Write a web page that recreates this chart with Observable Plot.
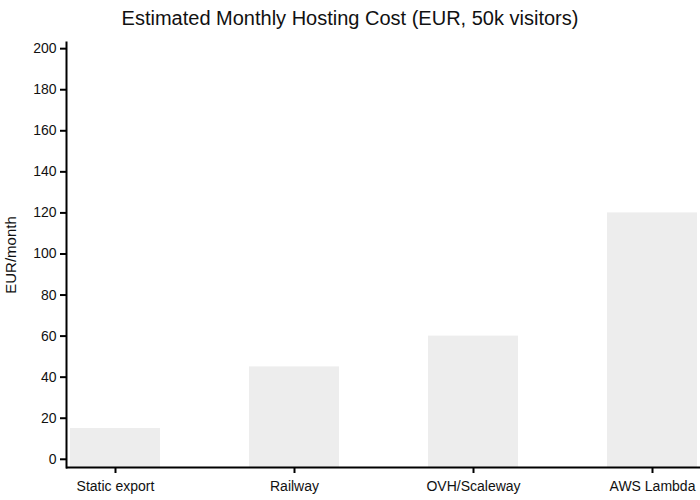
<!DOCTYPE html>
<html>
<head>
<meta charset="utf-8">
<script src="https://cdn.jsdelivr.net/npm/d3@7"></script>
<script src="https://cdn.jsdelivr.net/npm/@observablehq/plot@0.6"></script>
<style>
  body { margin: 0; background: #fff; font-family: "Liberation Sans", Arial, sans-serif; }
  #title { height: 36px; line-height: 36px; text-align: center; font-size: 20px; color: #111; width: 700px; }
  #chart svg { display: block; overflow: visible; }
</style>
</head>
<body>
<div id="title">Estimated Monthly Hosting Cost (EUR, 50k visitors)</div>
<div id="chart"></div>
<script>
const categories = ["Static export", "Railway", "OVH/Scaleway", "AWS Lambda"];
const costs = [15, 45, 60, 120];
const yTicks = [0, 20, 40, 60, 80, 100, 120, 140, 160, 180, 200];
const yDomain = [-4, 203];
const yLabel = "EUR/month";

const data = categories.map((c, i) => ({category: c, cost: costs[i]}));

const chart = Plot.plot({
  width: 700,
  height: 464,
  marginTop: 6,
  marginBottom: 33,
  marginLeft: 66,
  marginRight: 0,
  style: {fontFamily: "Liberation Sans, Arial, sans-serif", fontSize: "14px", color: "#111"},
  x: {domain: categories, paddingInner: 0.5, paddingOuter: 0.02},
  y: {domain: yDomain},
  marks: [
    Plot.barY(data, {x: "category", y1: yDomain[0], y2: "cost", fill: "#ededed"}),
    Plot.axisY({ticks: yTicks, tickSize: 6, tickPadding: 4, strokeWidth: 2, stroke: "black", label: null, fontSize: 14}),
    Plot.axisY({ticks: [], label: yLabel, labelAnchor: "center", labelArrow: "none", labelOffset: 61, fontSize: 15}),
    Plot.axisX({tickSize: 6, tickPadding: 8, strokeWidth: 2, stroke: "black", label: null, fontSize: 14}),
    Plot.ruleY([yDomain[0]], {stroke: "black", strokeWidth: 2}),
    Plot.frame({anchor: "left", stroke: "black", strokeWidth: 2})
  ]
});
document.getElementById("chart").appendChild(chart);
</script>
</body>
</html>
